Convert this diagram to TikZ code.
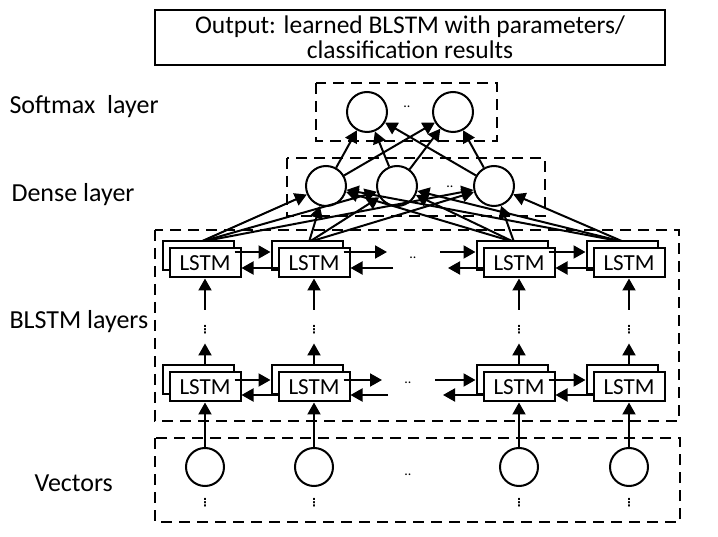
\documentclass[tikz,border=0pt]{standalone}
\usepackage{fontspec}
\setmainfont{Carlito}
\newfontfamily\dvfont{DejaVu Sans}
\usetikzlibrary{arrows.meta}
\begin{document}
\begin{tikzpicture}[x=1pt,y=-1pt,
  dbox/.style={draw, line width=2.2pt, dash pattern=on 11pt off 7pt},
  neuron/.style={draw, circle, line width=2pt, minimum size=40pt, inner sep=0pt},
  vneuron/.style={neuron, minimum size=38pt},
  lstmbox/.style={draw, fill=white, line width=2pt, minimum width=71pt, minimum height=29pt, inner sep=0pt, font=\fontsize{23}{23}\selectfont},
  arr/.style={line width=2pt, -{Triangle[length=12pt,width=13pt]}},
  lab/.style={anchor=west, font=\fontsize{26}{26}\selectfont},
  ell/.style={font=\fontsize{14}{14}\selectfont, inner sep=0pt},
  vd/.style={inner sep=0pt, font=\dvfont\bfseries\fontsize{11}{11}\selectfont}
]
\useasboundingbox (0,0) rectangle (718,537);

% output box
\node[draw, line width=2.2pt, minimum width=510pt, minimum height=55pt, align=center,
      font=\fontsize{25.5}{25}\selectfont] (out) at (410,37.5)
  {Output: learned BLSTM with parameters/\\classification results};

% labels
\node[lab] (lsm) at (6,107) {Softmax\ \ layer};
\node[lab] (lde) at (8,195) {Dense layer};
\node[lab] (lbl) at (6,322) {BLSTM layers};
\node[lab] (lve) at (31,483) {Vectors};

% dashed group boxes
\draw[dbox] (316,83) rectangle (497,141);
\draw[dbox] (287,158) rectangle (545,216);
\draw[dbox] (155,230) rectangle (679,421);
\draw[dbox] (155,438) rectangle (680,522);

% softmax and dense neurons
\node[neuron] (S1) at (367,112) {};
\node[neuron] (S2) at (453,112) {};
\node[ell] (se) at (407,107) {..};
\node[neuron] (D1) at (326,186) {};
\node[neuron] (D2) at (397,186) {};
\node[neuron] (D3) at (494,186) {};
\node[ell] (de) at (450,187) {..};

% columns
\foreach \i/\c in {1/205,2/314,3/519,4/629}{
  \node[vneuron] (V\i) at (\c,467) {};
  \node[vd] (vd\i) at (\c,503) {⋮};
  \node[vd] (md\i) at (\c,330) {⋮};
}
\node[ell] (ve) at (408,475) {..};
\node[ell] (te) at (413,258) {..};
\node[ell] (be) at (408,383) {..};

% connections LSTM top -> dense (drawn first)
\foreach \i/\c in {1/205,2/314,3/519,4/629}{
  \coordinate (src\i) at (\c-5,242);
}
\foreach \b in {1,...,4}{
  \foreach \d in {1,2,3}{
    \draw[arr] (src\b) -- (D\d);
  }
}
\foreach \d in {1,2,3}{
  \foreach \s in {1,2}{
    \draw[arr] (D\d) -- (S\s);
  }
}

% LSTM boxes
\foreach \i/\c in {1/205,2/314,3/519,4/629}{
  \node[lstmbox] (tb\i) at (\c-7,256) {};
  \node[lstmbox] (tf\i) at (\c,263) {LSTM};
  \node[lstmbox] (bb\i) at (\c-7,380) {};
  \node[lstmbox] (bf\i) at (\c,387) {LSTM};
}

% vertical arrows
\foreach \i in {1,...,4}{
  \draw[arr, shorten <=16pt] (md\i.north) -- (tf\i.south);
  \draw[arr, shorten >=9pt] (bf\i.north |- bb\i.north) -- (md\i.south);
  \draw[arr] (V\i.north) -- (bf\i.south);
}

% horizontal arrows, top row
\coordinate (tr2) at (387,252);
\coordinate (tl2) at (393,268);
\coordinate (tr3) at (440,252);
\coordinate (tl3) at (448,268);
\draw[arr] ([yshift=4pt]tb1.east) -- ([yshift=4pt]tb2.west);
\draw[arr] ([yshift=-5pt]tf2.west) -- ([yshift=-5pt]tf1.east);
\draw[arr] ([yshift=4pt]tb2.east) -- (tr2);
\draw[arr] (tl2) -- ([yshift=-5pt]tf2.east);
\draw[arr] (tr3) -- ([yshift=4pt]tb3.west);
\draw[arr] ([yshift=-5pt]tf3.west) -- (tl3);
\draw[arr] ([yshift=4pt]tb3.east) -- ([yshift=4pt]tb4.west);
\draw[arr] ([yshift=-5pt]tf4.west) -- ([yshift=-5pt]tf3.east);

% horizontal arrows, bottom row
\coordinate (br2) at (382,380);
\coordinate (bl2) at (388,395);
\coordinate (br3) at (435,380);
\coordinate (bl3) at (443,395);
\draw[arr] (bb1.east) -- (bb2.west);
\draw[arr] ([yshift=-8pt]bf2.west) -- ([yshift=-8pt]bf1.east);
\draw[arr] (bb2.east) -- (br2);
\draw[arr] (bl2) -- ([yshift=-8pt]bf2.east);
\draw[arr] (br3) -- (bb3.west);
\draw[arr] ([yshift=-8pt]bf3.west) -- (bl3);
\draw[arr] (bb3.east) -- (bb4.west);
\draw[arr] ([yshift=-8pt]bf4.west) -- ([yshift=-8pt]bf3.east);
\end{tikzpicture}
\end{document}
